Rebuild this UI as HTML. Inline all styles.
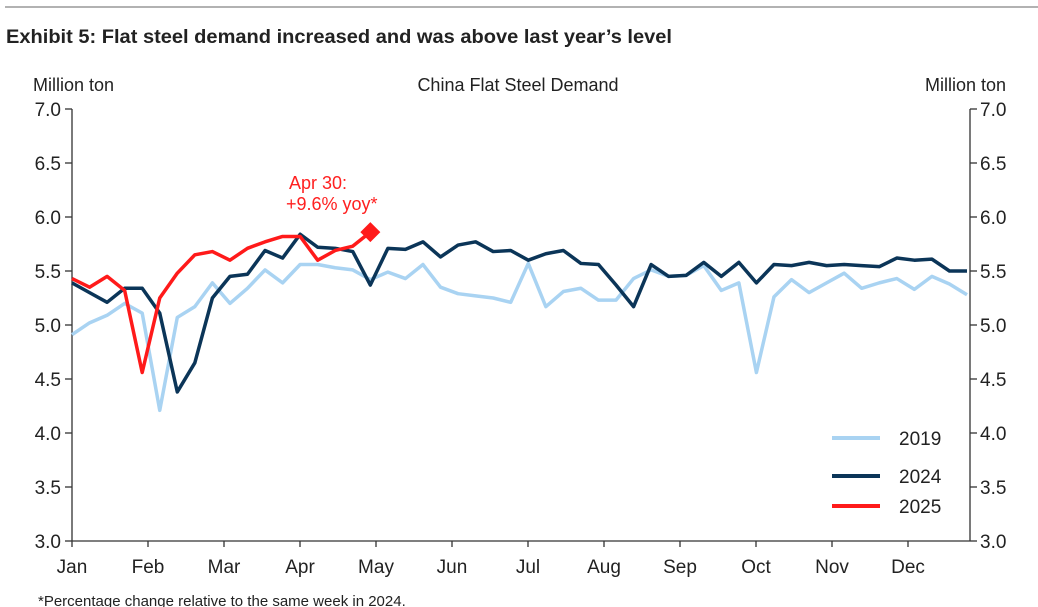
<!DOCTYPE html>
<html><head><meta charset="utf-8"><style>
body{margin:0;background:#fff;}
svg{display:block;font-family:"Liberation Sans",Arial,sans-serif;}
</style></head><body>
<svg id="chart" width="1038" height="607" viewBox="0 0 1038 607" xmlns="http://www.w3.org/2000/svg">
<line x1="5" y1="7" x2="1038" y2="7" stroke="#999" stroke-width="1.5"/>
<text x="6" y="43" font-size="19" font-weight="bold" fill="#222" textLength="666" lengthAdjust="spacingAndGlyphs">Exhibit 5: Flat steel demand increased and was above last year’s level</text>
<text x="33" y="91" font-size="18" fill="#222">Million ton</text>
<text x="518" y="91" font-size="18" fill="#222" text-anchor="middle">China Flat Steel Demand</text>
<text x="1006" y="91" font-size="18" fill="#222" text-anchor="end">Million ton</text>
<g id="axes"></g>
<g id="series"></g>
<text x="289" y="189" font-size="18" fill="#ff2020">Apr 30:</text>
<text x="286" y="210" font-size="18" fill="#ff2020">+9.6% yoy*</text>
<g>
<line x1="832" y1="438" x2="880" y2="438" stroke="#a9d3f2" stroke-width="4"/>
<text x="899" y="445" font-size="19" fill="#222">2019</text>
<line x1="832" y1="476" x2="880" y2="476" stroke="#0b3558" stroke-width="4"/>
<text x="899" y="483" font-size="19" fill="#222">2024</text>
<line x1="832" y1="506" x2="880" y2="506" stroke="#ff1a1a" stroke-width="4"/>
<text x="899" y="513" font-size="19" fill="#222">2025</text>
</g>
<text x="38" y="606" font-size="15" fill="#222">*Percentage change relative to the same week in 2024.</text>
</svg>
<script>
const months=["Jan","Feb","Mar","Apr","May","Jun","Jul","Aug","Sep","Oct","Nov","Dec"];
const yTicks=[3.0,3.5,4.0,4.5,5.0,5.5,6.0,6.5,7.0];
const s2019=[4.91,5.02,5.09,5.20,5.11,4.21,5.07,5.17,5.39,5.20,5.34,5.51,5.39,5.56,5.56,5.53,5.51,5.42,5.49,5.43,5.56,5.35,5.29,5.27,5.25,5.21,5.57,5.17,5.31,5.34,5.23,5.23,5.43,5.51,5.45,5.46,5.55,5.32,5.39,4.56,5.26,5.42,5.30,5.39,5.48,5.34,5.39,5.43,5.33,5.45,5.38,5.28];
const s2024=[5.39,5.30,5.21,5.34,5.34,5.11,4.38,4.65,5.25,5.45,5.47,5.69,5.62,5.84,5.72,5.71,5.68,5.37,5.71,5.70,5.77,5.63,5.74,5.77,5.68,5.69,5.60,5.66,5.69,5.57,5.56,5.37,5.17,5.56,5.45,5.46,5.58,5.45,5.58,5.39,5.56,5.55,5.58,5.55,5.56,5.55,5.54,5.62,5.60,5.61,5.50,5.50];
const s2025=[5.43,5.35,5.45,5.32,4.56,5.25,5.48,5.65,5.68,5.60,5.71,5.77,5.82,5.82,5.60,5.69,5.73,5.86];
const NS="http://www.w3.org/2000/svg";
const X0=72,X1=970,Y0=541,Y1=109;
const xW=i=>X0+i*(967-72)/51;
const xM=m=>X0+m*76;
const yS=v=>Y0-(v-3)*(Y0-Y1)/4;
function mk(t,a,p){const e=document.createElementNS(NS,t);for(const k in a)e.setAttribute(k,a[k]);p.appendChild(e);return e;}
const ax=document.getElementById('axes'),sr=document.getElementById('series');
let e;
e=mk('line',{x1:X0,y1:Y1,x2:X0,y2:Y0,stroke:'#333','stroke-width':1.3},ax);


e=mk('line',{x1:X1,y1:Y1,x2:X1,y2:Y0,stroke:'#333','stroke-width':1.3},ax);


e=mk('line',{x1:X0,y1:Y0,x2:X1,y2:Y0,stroke:'#333','stroke-width':1.3},ax);


yTicks.forEach(v=>{const y=yS(v);
 e=mk('line',{x1:X0-7,y1:y,x2:X0,y2:y,stroke:'#333','stroke-width':1.3},ax);
 
 
 e=mk('line',{x1:X1,y1:y,x2:X1+7,y2:y,stroke:'#333','stroke-width':1.3},ax);
 
 
 e=mk('text',{x:X0-11,y:y+7,'font-size':19,fill:'#222','text-anchor':'end'},ax);e.textContent=v.toFixed(1);
 
 
 e=mk('text',{x:X1+10,y:y+7,'font-size':19,fill:'#222'},ax);e.textContent=v.toFixed(1);
 
 
});
months.forEach((m,i)=>{const x=xM(i);
 e=mk('line',{x1:x,y1:Y0,x2:x,y2:Y0+6,stroke:'#333','stroke-width':1.3},ax);
 
 
 e=mk('text',{x:x,y:573,'font-size':19,fill:'#222','text-anchor':'middle'},ax);e.textContent=m;
 
 
});
function line(arr,col,name){
 e=mk('polyline',{points:arr.map((v,i)=>xW(i)+','+yS(v)).join(' '),fill:'none',stroke:col,'stroke-width':3.5,'stroke-linejoin':'round'},sr);
 
 
}
line(s2019,'#a9d3f2','line-2019');
line(s2024,'#0b3558','line-2024');
line(s2025,'#ff1a1a','line-2025');
const li=s2025.length-1,dx=xW(li),dy=yS(s2025[li]);
e=mk('polygon',{points:`${dx},${dy-10} ${dx+10},${dy} ${dx},${dy+10} ${dx-10},${dy}`,fill:'#ff1a1a'},sr);


</script>
</body></html>
